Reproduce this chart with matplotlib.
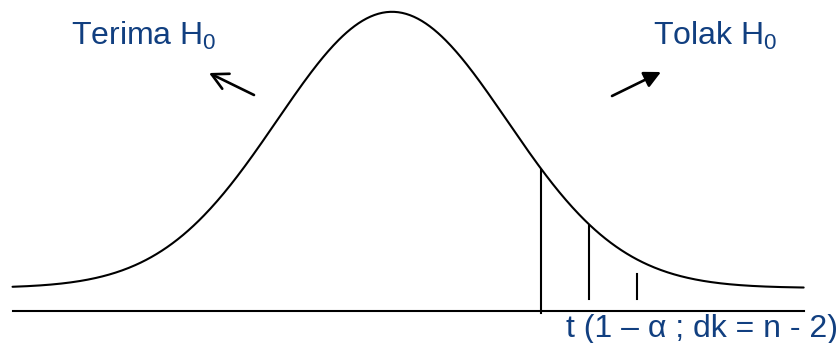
import numpy as np
import matplotlib
matplotlib.use("Agg")
import matplotlib.pyplot as plt

plt.rcParams['font.family'] = ['Liberation Sans', 'DejaVu Sans']
plt.rcParams['mathtext.fontset'] = 'custom'
plt.rcParams['mathtext.rm'] = 'Liberation Sans'
plt.rcParams['mathtext.default'] = 'regular'

# Data (standardised units)
curve_range = (-3.3, 3.58)          # extent of the drawn density curve
axis_range = (-3.3, 3.58)           # extent of the horizontal axis line
axis_level = -0.0332                # axis line level (density units)
crit_z = [1.30, 1.71, 2.13]         # vertical markers
crit_top = [0.1706, 0.0896, 0.0202] # top of each marker
crit_bottom = [-0.036, -0.016, -0.016]
label_left = "Terima H$_0$"
label_right = "Tolak H$_0$"
label_crit = "t (1 – α ; dk = n - 2)"
text_color = "#113f80"

W, H = 840, 343
fig = plt.figure(figsize=(W / 100, H / 100), dpi=100)
ax = fig.add_axes([0, 0, 1, 1])
ax.set_xlim(-3.409, 3.896)
ax.set_ylim(-0.0795, 0.416)
ax.axis('off')

z = np.linspace(curve_range[0], curve_range[1], 600)
pdf = np.exp(-z ** 2 / 2) / np.sqrt(2 * np.pi)
ax.plot(z, pdf, color='black', lw=1.5, solid_capstyle='round')
ax.plot(axis_range, [axis_level, axis_level], color='black', lw=1.5)
for xc, yt, yb in zip(crit_z, crit_top, crit_bottom):
    ax.plot([xc, xc], [yb, yt], color='black', lw=1.5)

def fx(px):
    return px / W

def fy(py):
    return 1 - py / H

fs = 23
fig.text(fx(71), fy(45), label_left, fontsize=fs, color=text_color, va='baseline', ha='left')
fig.text(fx(653), fy(45), label_right, fontsize=fs, color=text_color, va='baseline', ha='left')
fig.text(fx(566), fy(337), label_crit, fontsize=fs, color=text_color, va='baseline', ha='left')

ax.annotate('', xy=(fx(209), fy(73)), xytext=(fx(254), fy(95)),
            xycoords='figure fraction', textcoords='figure fraction',
            arrowprops=dict(arrowstyle='->,head_length=1.15,head_width=0.6', color='black', lw=1.9,
                            shrinkA=0, shrinkB=0))
ax.annotate('', xy=(fx(661), fy(72)), xytext=(fx(612), fy(96)),
            xycoords='figure fraction', textcoords='figure fraction',
            arrowprops=dict(arrowstyle='-|>,head_length=1.0,head_width=0.5', color='black', lw=1.9,
                            shrinkA=0, shrinkB=0))

fig.savefig('out.png', dpi=100)
